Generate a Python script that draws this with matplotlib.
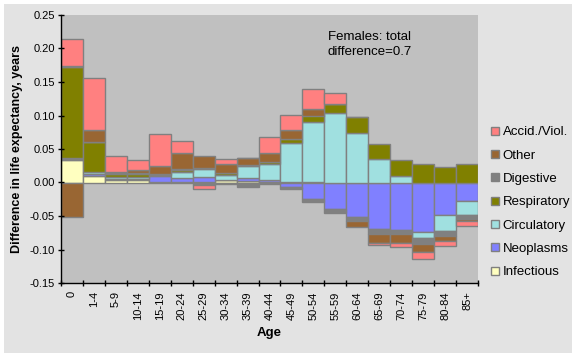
import numpy as np
import matplotlib
matplotlib.use("Agg")
from matplotlib import pyplot as plt
from matplotlib.patches import Rectangle, Patch

plt.rcParams['font.family'] = ['Liberation Sans', 'DejaVu Sans']

ages = ['0', '1-4', '5-9', '10-14', '15-19', '20-24', '25-29', '30-34', '35-39', '40-44',
        '45-49', '50-54', '55-59', '60-64', '65-69', '70-74', '75-79', '80-84', '85+']

# contribution of each cause to the difference, by age group
infectious = [0.033, 0.010, 0.004, 0.003, 0.001, 0.001, 0.001, 0.003, 0.002, 0.001,
              0.0005, 0.0005, 0.0, 0.0, 0.0, 0.0, 0.0, 0.0, 0.0]
neoplasms = [0.002, 0.002, 0.001, 0.002, 0.009, 0.006, 0.007, 0.001, 0.005, 0.002,
             -0.006, -0.024, -0.040, -0.051, -0.070, -0.071, -0.074, -0.048, -0.0275]
circulatory = [0.002, 0.003, 0.003, 0.003, 0.001, 0.008, 0.012, 0.007, 0.017, 0.025,
               0.058, 0.0895, 0.1035, 0.074, 0.035, 0.009, -0.0085, -0.024, -0.021]
respiratory = [0.135, 0.045, 0.004, 0.004, 0.001, 0.003, 0.002, 0.003, 0.002, 0.003,
               0.007, 0.010, 0.0135, 0.024, 0.0225, 0.024, 0.028, 0.0225, 0.027]
digestive = [0.002, 0.001, 0.002, 0.002, 0.001, 0.002, -0.003, -0.002, -0.006, -0.0015,
             -0.004, -0.005, -0.0055, -0.006, -0.0065, -0.0065, -0.010, -0.0085, -0.0055]
other = [-0.051, 0.018, 0.002, 0.004, 0.011, 0.024, 0.017, 0.013, 0.011, 0.0135,
         0.0125, 0.010, 0.0005, -0.009, -0.014, -0.013, -0.011, -0.007, -0.004]
accid = [0.040, 0.077, 0.024, 0.016, 0.049, 0.018, -0.007, 0.008, 0.0, 0.023,
         0.023, 0.030, 0.0165, 0.0, -0.0025, -0.0065, -0.0105, -0.0075, -0.0075]

series = [infectious, neoplasms, circulatory, respiratory, digestive, other, accid]
names = ['Infectious', 'Neoplasms', 'Circulatory', 'Respiratory', 'Digestive', 'Other', 'Accid./Viol.']
colors = ['#FFFFC0', '#8080FF', '#A0E0E0', '#808000', '#808080', '#996633', '#FF8080']

fig = plt.figure(figsize=(5.76, 3.57), dpi=100, facecolor='white')
fig.patches.append(Rectangle((4 / 576, 4 / 357), 568 / 576, 349 / 357, transform=fig.transFigure,
                             facecolor='#E3E3E3', edgecolor='none', zorder=-10))
ax = fig.add_axes([61 / 576, 1 - 283 / 357, 417 / 576, 268 / 357])
ax.set_facecolor('#C0C0C0')

x = np.arange(len(ages))
pos = np.zeros(len(ages))
neg = np.zeros(len(ages))
for vals, col in zip(series, colors):
    v = np.array(vals)
    bottom = np.where(v >= 0, pos, neg)
    ax.bar(x, v, bottom=bottom, width=1.0, color=col, edgecolor='#808080', linewidth=1.0)
    pos += np.where(v >= 0, v, 0)
    neg += np.where(v < 0, v, 0)

ax.set_xlim(-0.5, len(ages) - 0.5)
ax.set_ylim(-0.15, 0.25)
ax.set_yticks(np.arange(-0.15, 0.26, 0.05))
ax.set_yticklabels(['%.2f' % t for t in np.arange(-0.15, 0.26, 0.05)], fontsize=8)
ax.tick_params(axis='y', direction='inout', length=5, width=1, pad=2)
ax.set_xticks(x)
ax.set_xticklabels(ages, rotation=90, fontsize=8)
ax.tick_params(axis='x', which='major', length=0, pad=6)
ax.set_xticks(np.arange(-0.5, len(ages), 1), minor=True)
ax.tick_params(axis='x', which='minor', direction='inout', length=5, width=1)

for s in ['top', 'right']:
    ax.spines[s].set_visible(False)
for s in ['left', 'bottom']:
    ax.spines[s].set_color('black')
    ax.spines[s].set_linewidth(1.0)

ax.set_ylabel('Difference in life expectancy, years', fontsize=9, fontweight='bold', labelpad=5)
ax.set_xlabel('Age', fontsize=9.5, fontweight='bold', labelpad=5)

ax.text(0.64, 0.94, 'Females: total\ndifference=0.7', transform=ax.transAxes,
        fontsize=9.5, va='top', ha='left', linespacing=1.35)

handles = [Patch(facecolor=c, edgecolor='#808080', linewidth=1.0) for c in colors][::-1]
fig.legend(handles, names[::-1], loc='upper left', bbox_to_anchor=(486 / 576, 1 - 121 / 357),
           frameon=False, fontsize=9.5, handlelength=0.55, handleheight=0.55,
           handletextpad=0.3, labelspacing=0.86, borderaxespad=0)

fig.savefig('out.png', dpi=100, facecolor=fig.get_facecolor())
